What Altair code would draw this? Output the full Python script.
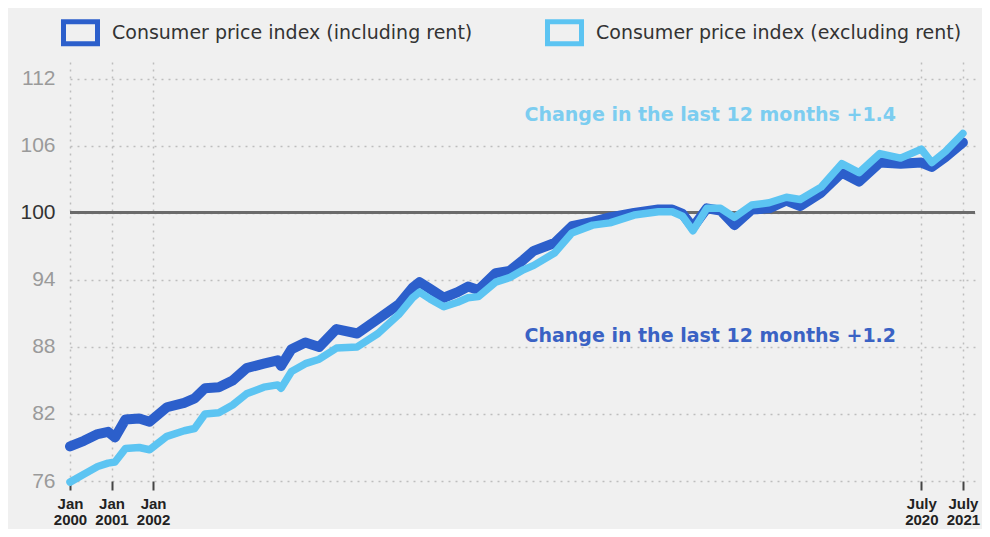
import altair as alt
import pandas as pd

# ---- data ----
months = ["2000-01", "2000-05", "2000-09", "2000-12", "2001-02", "2001-05", "2001-09", "2001-12",
          "2002-05", "2002-10", "2003-01", "2003-04", "2003-08", "2003-12", "2004-04", "2004-09",
          "2005-01", "2005-02", "2005-05", "2005-09", "2006-01", "2006-06", "2006-12", "2007-06",
          "2007-12", "2008-04", "2008-06", "2008-09", "2009-01", "2009-05", "2009-08", "2009-11",
          "2010-04", "2010-08", "2010-12", "2011-03", "2011-09", "2012-02", "2012-08", "2013-01",
          "2013-08", "2014-03", "2014-07", "2014-10", "2015-01", "2015-05", "2015-09", "2016-01",
          "2016-06", "2016-11", "2017-04", "2017-08", "2018-02", "2018-08", "2019-01", "2019-07",
          "2020-01", "2020-07", "2020-10", "2021-02", "2021-07"]

cpi_incl_rent = [79.1, 79.6, 80.2, 80.4, 79.9, 81.5, 81.6, 81.3, 82.6, 83.0,
                 83.4, 84.3, 84.4, 85.0, 86.1, 86.5, 86.8, 86.3, 87.8, 88.4,
                 88.0, 89.6, 89.2, 90.5, 91.8, 93.3, 93.8, 93.2, 92.4, 92.9,
                 93.4, 93.1, 94.6, 94.8, 95.8, 96.6, 97.3, 98.8, 99.2, 99.6,
                 100.0, 100.3, 100.3, 99.9, 98.7, 100.4, 100.2, 98.9, 100.3, 100.4,
                 101.1, 100.6, 101.8, 103.6, 102.8, 104.5, 104.4, 104.5, 104.1, 105.0,
                 106.3]

cpi_excl_rent = [75.9, 76.6, 77.3, 77.6, 77.7, 78.9, 79.0, 78.8, 80.0, 80.5,
                 80.7, 82.0, 82.1, 82.8, 83.8, 84.4, 84.6, 84.3, 85.8, 86.5,
                 86.9, 87.9, 88.0, 89.2, 90.9, 92.4, 92.9, 92.3, 91.6, 92.0,
                 92.4, 92.5, 93.8, 94.2, 94.9, 95.3, 96.4, 98.2, 98.9, 99.1,
                 99.8, 100.1, 100.1, 99.7, 98.4, 100.4, 100.4, 99.6, 100.7, 100.9,
                 101.4, 101.2, 102.3, 104.4, 103.6, 105.3, 104.9, 105.7, 104.5, 105.5,
                 107.1]

series_names = ["Consumer price index (including rent)", "Consumer price index (excluding rent)"]
series_colors = ["#2c5fcb", "#5cc4f2"]

tick_months = ["2000-01", "2001-01", "2002-01", "2020-07", "2021-07"]
tick_labels = [["Jan", "2000"], ["Jan", "2001"], ["Jan", "2002"], ["July", "2020"], ["July", "2021"]]
y_ticks = [76, 82, 88, 94, 100, 106, 112]

note_texts = ["Change in the last 12 months +1.4", "Change in the last 12 months +1.2"]
note_months = ["2015-06", "2015-06"]
note_values = [108.8, 89.0]
note_colors = ["#7ccdf0", "#3a62c4"]


def month_index(s):
    y, m = s.split("-")
    return (int(y) - 2000) * 12 + int(m) - 1


assert len(months) == len(cpi_incl_rent) == len(cpi_excl_rent)

df_incl = pd.DataFrame({"t": [month_index(m) for m in months], "v": cpi_incl_rent,
                        "series": series_names[0]})
df_excl = pd.DataFrame({"t": [month_index(m) for m in months], "v": cpi_excl_rent,
                        "series": series_names[1]})
df_notes = pd.DataFrame({"t": [month_index(m) for m in note_months], "v": note_values,
                         "text": note_texts, "color": note_colors})

tick_vals = [month_index(m) for m in tick_months]
label_expr = ""
for tv, lab in zip(tick_vals, tick_labels):
    label_expr += f"datum.value == {tv} ? ['{lab[0]}', '{lab[1]}'] : "
label_expr += "''"

x_scale = alt.Scale(domain=[0, 261.5], nice=False, zero=False)
y_scale = alt.Scale(domain=[76, 113.5], nice=False, zero=False)

x_axis = alt.Axis(values=tick_vals, labelExpr=label_expr, title=None, domain=False,
                  ticks=True, tickSize=9, tickWidth=2, tickColor="#444444",
                  grid=True, gridDash=[2, 5], gridColor="#bdbdbd", gridWidth=1.5,
                  labelFont="Liberation Sans", labelFontSize=15, labelFontWeight="bold",
                  labelColor="#222222", labelLineHeight=16, labelPadding=6,
                  labelAngle=0, labelOverlap=False, labelFlush=False)
y_axis = alt.Axis(values=y_ticks, title=None, domain=False, ticks=False,
                  grid=True, gridDash=[2, 5], gridColor="#bdbdbd", gridWidth=1.5,
                  labelFont="Liberation Sans", labelFontSize=21,
                  labelColor={"condition": {"test": "datum.value == 100", "value": "#333333"},
                              "value": "#9a9a9a"},
                  labelPadding=15)

color_scale = alt.Scale(domain=series_names, range=series_colors)
legend = alt.Legend(orient="none", legendX=-9, legendY=-49, direction="horizontal", title=None,
                    symbolType="M-1,-0.65H1V0.65H-1Z", symbolSize=1156, symbolStrokeWidth=5,
                    symbolFillColor="transparent", labelFont="DejaVu Sans", labelFontSize=19,
                    labelColor="#333333", columnPadding=64, labelOffset=12, labelLimit=600)

base_axes = alt.Chart(df_incl).mark_line(opacity=0).encode(
    x=alt.X("t:Q", scale=x_scale, axis=x_axis),
    y=alt.Y("v:Q", scale=y_scale, axis=y_axis),
)

line_incl = alt.Chart(df_incl).mark_line(strokeWidth=10, strokeJoin="round", strokeCap="round").encode(
    x=alt.X("t:Q", scale=x_scale),
    y=alt.Y("v:Q", scale=y_scale),
    color=alt.Color("series:N", scale=color_scale, legend=legend),
)
line_excl = alt.Chart(df_excl).mark_line(strokeWidth=7.5, strokeJoin="round", strokeCap="round").encode(
    x=alt.X("t:Q", scale=x_scale),
    y=alt.Y("v:Q", scale=y_scale),
    color=alt.Color("series:N", scale=color_scale, legend=legend),
)

rule100 = alt.Chart(df_incl).mark_rule(color="#6b6b6b", strokeWidth=2.5).encode(
    y=alt.datum(100)
)

notes = alt.Chart(df_notes).mark_text(font="DejaVu Sans", fontSize=19, fontWeight="bold",
                                      align="center", baseline="middle").encode(
    x=alt.X("t:Q", scale=x_scale),
    y=alt.Y("v:Q", scale=y_scale),
    text="text:N",
    color=alt.Color("color:N", scale=None),
)

chart = alt.layer(base_axes, rule100, line_incl, line_excl, notes).properties(
    width=905, height=419, autosize="none",
    padding={"left": 62, "top": 54, "right": 7, "bottom": 48},
    background="#f0f0f0",
).configure_view(stroke=None)

chart.save("out.html", embed_options={"renderer": "svg", "actions": False})
